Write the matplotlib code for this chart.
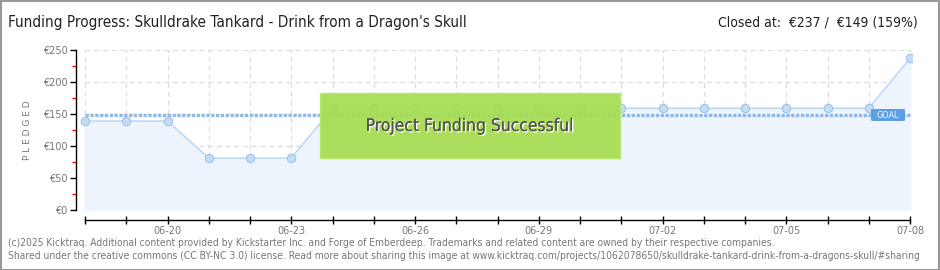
import matplotlib
matplotlib.use("Agg")
import matplotlib.pyplot as plt
import matplotlib.patheffects as pe
from matplotlib.patches import Rectangle, FancyBboxPatch
from matplotlib.ticker import FixedLocator, FuncFormatter

dates = ["06-18", "06-19", "06-20", "06-21", "06-22", "06-23", "06-24", "06-25",
         "06-26", "06-27", "06-28", "06-29", "06-30", "07-01", "07-02", "07-03",
         "07-04", "07-05", "07-06", "07-07", "07-08"]
pledged = [139, 139, 139, 81, 81, 81, 159, 159, 159, 159, 159, 159, 159, 159,
           159, 159, 159, 159, 159, 159, 237]
goal = 149
yticks = [0, 50, 100, 150, 200, 250]
title = "Funding Progress: Skulldrake Tankard - Drink from a Dragon's Skull"
closed = "Closed at:  €237 /  €149 (159%)"
footer1 = ("(c)2025 Kicktraq. Additional content provided by Kickstarter Inc. and Forge of Emberdeep. "
           "Trademarks and related content are owned by their respective companies.")
footer2 = ("Shared under the creative commons (CC BY-NC 3.0) license. Read more about sharing this image at "
           "www.kicktraq.com/projects/1062078650/skulldrake-tankard-drink-from-a-dragons-skull/#sharing")

FONT = ['DejaVu Sans']
plt.rcParams['font.family'] = FONT

W, H = 940, 270
fig = plt.figure(figsize=(W / 100, H / 100), dpi=100)
fig.patch.set_facecolor('white')

L, R, T, B = 76, 912, 50, 210
ax = fig.add_axes([L / W, 1 - B / H, (R - L) / W, (B - T) / H])
ax.set_facecolor('none')
x = list(range(len(dates)))
ax.set_xlim(-9 / 41.25, 20 + 2 / 41.25)
ax.set_ylim(0, 250)

for xi in x:
    ax.axvline(xi, color='#dedede', lw=0.9, ls=(0, (4, 3)), zorder=0)
for yv in yticks:
    ax.plot([0, 20], [yv, yv], color='#dedede', lw=0.9, ls=(0, (4, 3)), zorder=0)

ax.fill_between(x, pledged, 0, color='#edf4fc', zorder=1)
ax.plot(x, pledged, color='#b5d5f5', lw=1, zorder=3,
        marker='o', ms=6, mfc='#c4ddf7', mec='#9dc2ea', mew=0.8)

ax.plot([0, 20], [goal, goal], color='#92b9e4', lw=2.4, ls=(0, (1, 0.45)), zorder=2)

gx0 = (871 - L) / (R - L)
gy0 = (B - 121) / (B - T)
ax.add_patch(FancyBboxPatch((gx0, gy0), (905 - 871) / (R - L), 12 / (B - T),
                            boxstyle='round,pad=0,rounding_size=0.004',
                            transform=ax.transAxes, fc='#5d9ee0', ec='none', zorder=6))
ax.text(gx0 + 17 / (R - L), gy0 + 6 / (B - T), "GOAL", transform=ax.transAxes,
        color='white', fontsize=6.5, ha='center', va='center', zorder=7,
        fontstretch='condensed')

bx0 = (320 - L) / (R - L)
by0 = (B - 158) / (B - T)
ax.add_patch(Rectangle((bx0, by0), (620 - 320) / (R - L), (158 - 93) / (B - T),
                       transform=ax.transAxes, fc='#a6dd50', ec='#b5e86a', lw=1,
                       alpha=0.93, zorder=8))
ax.text(bx0 + 150 / (R - L), by0 + 32 / (B - T), "Project Funding Successful",
        transform=ax.transAxes, ha='center', va='center', fontsize=12.5,
        color='#555555', zorder=9, fontstretch='condensed',
        path_effects=[pe.withSimplePatchShadow(offset=(1, -1), shadow_rgbFace='white', alpha=1),
                      pe.Normal()])

for s in ['top', 'right']:
    ax.spines[s].set_visible(False)
ax.spines['left'].set_bounds(0, 250)
ax.spines['left'].set_color('black')
ax.spines['left'].set_linewidth(1)
ax.spines['bottom'].set_position(('outward', 7.2))
ax.spines['bottom'].set_bounds(0, 20)
ax.spines['bottom'].set_linewidth(1)

ax.yaxis.set_major_locator(FixedLocator(yticks))
ax.yaxis.set_major_formatter(FuncFormatter(lambda v, p: f"€{int(v)}"))
ax.yaxis.set_minor_locator(FixedLocator([25, 75, 125, 175, 225]))
ax.tick_params(axis='y', which='major', length=4, width=1, color='black',
               labelsize=7, labelcolor='#777777', pad=2)
ax.tick_params(axis='y', which='minor', length=3, width=1, color='red')

ax.xaxis.set_major_locator(FixedLocator(x))
ax.set_xticklabels([d if (i - 2) % 3 == 0 and i >= 2 else "" for i, d in enumerate(dates)])
ax.tick_params(axis='x', which='major', length=6, width=1, color='black', direction='inout',
               labelsize=7, labelcolor='#777777', pad=1)

ax.set_ylabel("P L E D G E D", fontsize=6.5, color='#777777', labelpad=8)

fig.text(8 / W, 1 - 22 / H, title, fontsize=11, color='#222222', ha='left', va='center',
         fontstretch='condensed')
fig.text(918 / W, 1 - 22 / H, closed, fontsize=10, color='#222222', ha='right', va='center',
         fontstretch='condensed')

fig.text(8 / W, 1 - 243 / H, footer1, fontsize=7.4, color='#777777', ha='left', va='center',
         fontstretch='condensed')
fig.text(8 / W, 1 - 256 / H, footer2, fontsize=7.4, color='#777777', ha='left', va='center',
         fontstretch='condensed')

fig.add_artist(Rectangle((0.5 / W, 0.5 / H), 1 - 1.5 / W, 1 - 1.5 / H, transform=fig.transFigure,
                         fill=False, ec='#999999', lw=1.5))

fig.savefig("out.png", dpi=100, facecolor='white')
